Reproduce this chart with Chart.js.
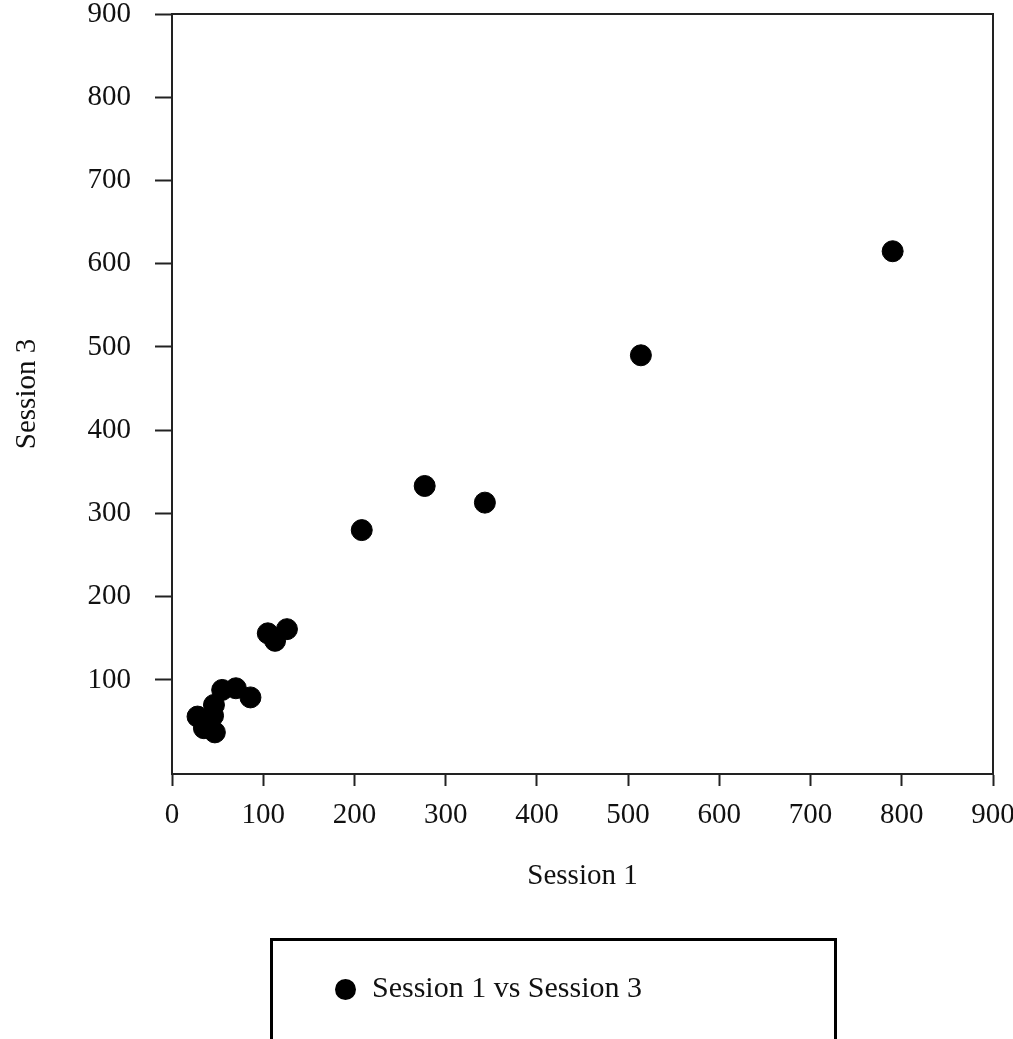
<!DOCTYPE html>
<html lang="en">
<head>
    <meta charset="UTF-8">
    <title>Session 1 vs Session 3</title>
    <style>
        body {
            margin: 0;
            padding: 0;
            background-color: #fff;
            overflow: hidden;
        }

        #wrap {
            position: relative;
            width: 1013px;
            height: 1039px;
        }

        #legendBox {
            position: absolute;
            left: 270px;
            top: 938px;
            width: 561px;
            height: 120px;
            border: 3px solid #000;
            font-family: "Liberation Serif", "Times New Roman", serif;
            font-size: 30px;
            color: #111;
        }

        #legendBox .dot {
            position: absolute;
            left: 62px;
            top: 38px;
            width: 21px;
            height: 21px;
            border-radius: 50%;
            background-color: #000;
        }

        #legendBox .label {
            position: absolute;
            left: 99px;
            top: 29px;
            white-space: nowrap;
        }
    </style>
    <script src="https://cdn.jsdelivr.net/npm/chart.js"></script>
</head>
<body>
    <div id="wrap">
        <canvas id="scatterChart"></canvas>
        <div id="legendBox">
            <span class="dot"></span>
            <span class="label" id="legendLabel"></span>
        </div>
    </div>

    <script>
        // values
        const seriesName = 'Session 1 vs Session 3';
        const session1 = [790, 514, 277, 343, 208, 105, 126, 113, 28, 35, 47, 45, 46, 55, 70, 86];
        const session3 = [615, 490, 333, 313, 280, 156, 161, 147, 56, 42, 37, 57, 70, 88, 90, 79];
        const xTicks = [0, 100, 200, 300, 400, 500, 600, 700, 800, 900];
        const yTicks = [100, 200, 300, 400, 500, 600, 700, 800, 900];

        document.getElementById('legendLabel').textContent = seriesName;

        const points = session1.map((x, i) => ({ x: x, y: session3[i] }));

        const axisColor = '#222';
        const serif = { family: '"Liberation Serif", "Times New Roman", serif', size: 29 };

        // box around the plot area
        const frame = {
            id: 'frame',
            afterDraw(chart) {
                const a = chart.chartArea;
                const ctx = chart.ctx;
                ctx.save();
                ctx.strokeStyle = axisColor;
                ctx.lineWidth = 2;
                ctx.strokeRect(a.left, a.top, a.right - a.left, a.bottom - a.top);
                ctx.restore();
            }
        };

        const canvas = document.getElementById('scatterChart');
        canvas.width = 1013;
        canvas.height = 1039;

        new Chart(canvas.getContext('2d'), {
            type: 'scatter',
            data: {
                datasets: [{
                    label: seriesName,
                    data: points,
                    backgroundColor: '#000',
                    borderColor: '#000',
                    pointRadius: 10.5,
                    pointHoverRadius: 10.5
                }]
            },
            options: {
                responsive: false,
                animation: false,
                layout: {
                    padding: { left: 0, right: 20, top: 14, bottom: 145 }
                },
                plugins: {
                    legend: { display: false },
                    tooltip: { enabled: false }
                },
                scales: {
                    x: {
                        type: 'linear',
                        min: 0,
                        max: 900,
                        afterBuildTicks: s => { s.ticks = xTicks.map(v => ({ value: v })); },
                        afterFit: s => {
                            s.height = 120;
                            s.paddingLeft = 0;
                            s.paddingRight = 0;
                        },
                        grid: {
                            drawOnChartArea: false,
                            drawTicks: true,
                            tickLength: 12,
                            tickWidth: 2,
                            tickColor: axisColor
                        },
                        border: { color: axisColor, width: 2 },
                        ticks: { color: '#111', font: serif, padding: 12, maxRotation: 0 },
                        title: {
                            display: true,
                            text: 'Session 1',
                            color: '#111',
                            font: serif,
                            padding: { top: 0, bottom: 0 }
                        }
                    },
                    y: {
                        type: 'linear',
                        min: -13,
                        max: 900,
                        afterBuildTicks: s => { s.ticks = yTicks.map(v => ({ value: v })); },
                        afterFit: s => {
                            s.width = 172;
                            s.paddingTop = 0;
                            s.paddingBottom = 0;
                        },
                        grid: {
                            drawOnChartArea: false,
                            drawTicks: true,
                            tickLength: 17,
                            tickWidth: 2,
                            tickColor: axisColor
                        },
                        border: { color: axisColor, width: 2 },
                        ticks: { color: '#111', font: serif, padding: 24 },
                        title: {
                            display: true,
                            text: 'Session 3',
                            color: '#111',
                            font: serif,
                            padding: { top: 10, bottom: 0 }
                        }
                    }
                }
            },
            plugins: [frame]
        });
    </script>
</body>
</html>
